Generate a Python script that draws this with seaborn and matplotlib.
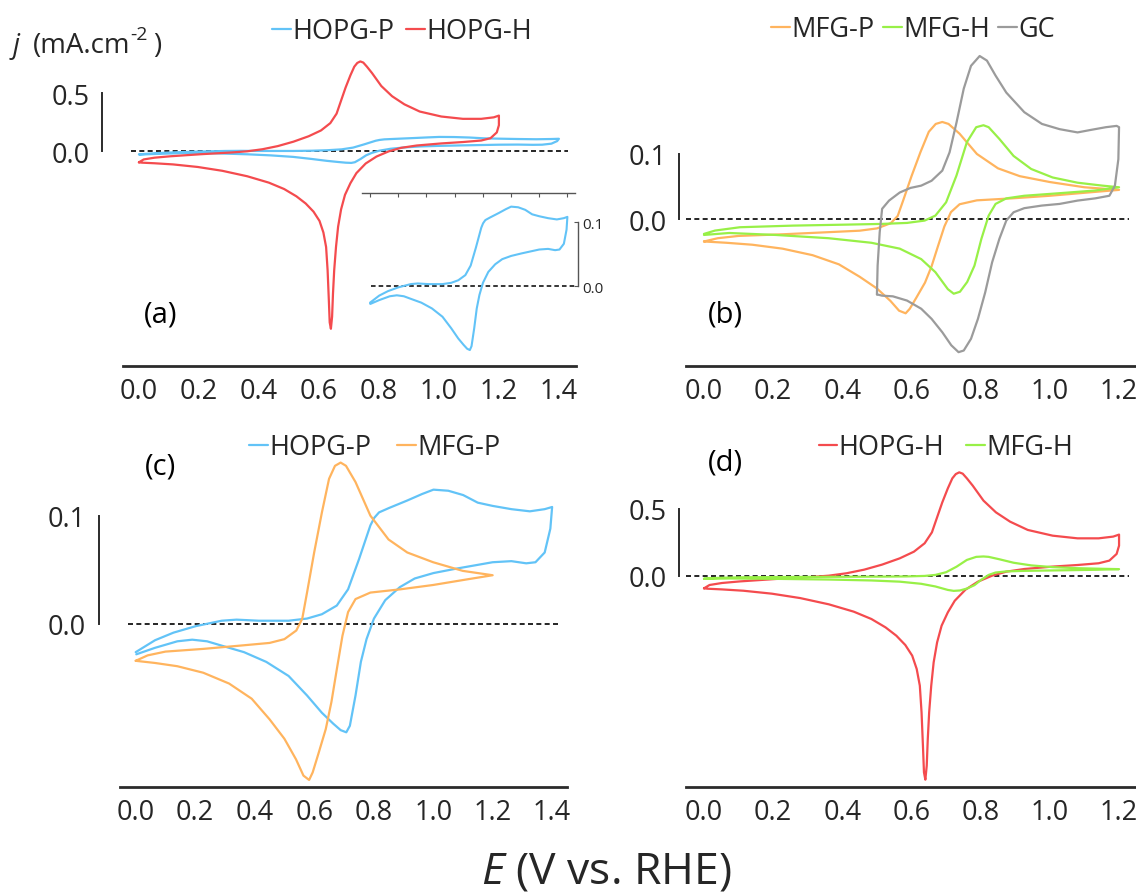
import numpy as np
import pandas as pd
import seaborn as sns
import matplotlib.pyplot as plt

# cyclic voltammograms: forward scan then reverse scan, E in V vs RHE, j in mA/cm2
hopg_p_E = [0.000, 0.065, 0.127, 0.202, 0.289, 0.339, 0.414, 0.514, 0.576, 0.626, 0.676, 0.714,
            0.751, 0.789, 0.802, 0.818, 0.851, 0.913, 0.963, 1.001, 1.051, 1.101, 1.150, 1.200, 1.263,
            1.325, 1.375, 1.400,
            1.394, 1.375, 1.344, 1.313, 1.263, 1.200, 1.138, 1.076, 1.001, 0.938, 0.888, 0.839,
            0.801, 0.776, 0.757, 0.739, 0.720, 0.708, 0.689, 0.664, 0.626, 0.576, 0.514, 0.439,
            0.364, 0.289, 0.240, 0.190, 0.140, 0.065, 0.002]
hopg_p_j = [-0.026, -0.015, -0.008, -0.002, 0.003, 0.004, 0.003, 0.003, 0.005, 0.009, 0.017, 0.032,
            0.060, 0.091, 0.098, 0.103, 0.107, 0.114, 0.120, 0.124, 0.123, 0.119, 0.112, 0.109, 0.106,
            0.104, 0.106, 0.108,
            0.088, 0.066, 0.057, 0.056, 0.058, 0.057, 0.054, 0.051, 0.047, 0.042, 0.034, 0.022,
            0.005, -0.014, -0.035, -0.066, -0.094, -0.100, -0.098, -0.092, -0.082, -0.066, -0.048, -0.035,
            -0.026, -0.020, -0.016, -0.0145, -0.016, -0.022, -0.028]

hopg_h_E = [0.000, 0.016, 0.052, 0.104, 0.207, 0.309, 0.361, 0.412, 0.463, 0.515, 0.566, 0.607,
            0.638, 0.659, 0.674, 0.689, 0.705, 0.718, 0.728, 0.738, 0.748, 0.760, 0.777, 0.808, 0.844,
            0.885, 0.936, 1.008, 1.080, 1.141, 1.183, 1.200,
            1.200, 1.193, 1.172, 1.141, 1.080, 1.008, 0.926, 0.874, 0.833, 0.792, 0.756, 0.725,
            0.705, 0.687, 0.674, 0.664, 0.657, 0.651, 0.647, 0.644, 0.640, 0.636, 0.633, 0.629,
            0.624, 0.615, 0.602, 0.582, 0.556, 0.525, 0.484, 0.433, 0.361, 0.278, 0.196, 0.114,
            0.052, 0.011, 0.000]
hopg_h_j = [-0.095, -0.070, -0.055, -0.043, -0.025, -0.010, 0.000, 0.018, 0.045, 0.083, 0.130, 0.180,
            0.243, 0.325, 0.438, 0.550, 0.655, 0.730, 0.762, 0.775, 0.765, 0.730, 0.675, 0.563, 0.475,
            0.405, 0.343, 0.300, 0.280, 0.280, 0.293, 0.308,
            0.225, 0.163, 0.113, 0.093, 0.080, 0.068, 0.050, 0.030, 0.000, -0.045, -0.105, -0.188,
            -0.275, -0.375, -0.500, -0.650, -0.825, -1.025, -1.225, -1.425, -1.530, -1.475, -1.275, -1.025,
            -0.825, -0.700, -0.600, -0.520, -0.450, -0.388, -0.325, -0.270, -0.215, -0.168, -0.135, -0.113,
            -0.103, -0.098, -0.095]

mfg_p_E = [0.000, 0.040, 0.100, 0.227, 0.350, 0.450, 0.500, 0.540, 0.560, 0.576, 0.600, 0.626,
           0.650, 0.670, 0.689, 0.707, 0.739, 0.789, 0.850, 0.913, 1.000, 1.100, 1.200,
           1.110, 1.000, 0.890, 0.789, 0.739, 0.714, 0.695, 0.676, 0.658, 0.639, 0.614, 0.595,
           0.583, 0.564, 0.539, 0.500, 0.450, 0.390, 0.314, 0.227, 0.140, 0.065, 0.000]
mfg_p_j = [-0.034, -0.029, -0.0255, -0.023, -0.020, -0.0175, -0.014, -0.006, 0.005, 0.029, 0.066, 0.103,
           0.134, 0.146, 0.149, 0.146, 0.131, 0.100, 0.078, 0.066, 0.057, 0.049, 0.045,
           0.041, 0.036, 0.032, 0.029, 0.023, 0.011, -0.011, -0.042, -0.072, -0.097, -0.120, -0.137,
           -0.144, -0.140, -0.125, -0.106, -0.088, -0.069, -0.055, -0.045, -0.039, -0.036, -0.034]

mfg_h_E = [0.000, 0.032, 0.104, 0.258, 0.412, 0.515, 0.587, 0.638, 0.669, 0.700, 0.730, 0.760,
           0.787, 0.808, 0.823, 0.854, 0.895, 0.946, 1.008, 1.080, 1.152, 1.200,
           1.130, 1.030, 0.926, 0.874, 0.843, 0.823, 0.802, 0.782, 0.761, 0.740, 0.722, 0.705,
           0.669, 0.628, 0.566, 0.484, 0.360, 0.207, 0.073, 0.000]
mfg_h_j = [-0.0224, -0.0173, -0.0122, -0.0097, -0.0082, -0.0071, -0.0056, -0.002, 0.0056, 0.026, 0.067, 0.118,
           0.141, 0.144, 0.141, 0.123, 0.097, 0.077, 0.064, 0.056, 0.0515, 0.049,
           0.044, 0.040, 0.036, 0.032, 0.0235, 0.0056, -0.030, -0.071, -0.096, -0.111, -0.114, -0.107,
           -0.081, -0.061, -0.045, -0.036, -0.029, -0.024, -0.021, -0.024]

gc_E = [0.500, 0.502, 0.508, 0.515, 0.535, 0.566, 0.597, 0.628, 0.658, 0.689, 0.710, 0.730,
        0.751, 0.772, 0.797, 0.818, 0.843, 0.874, 0.926, 0.977, 1.028, 1.080, 1.120, 1.162,
        1.193, 1.200,
        1.198, 1.188, 1.172, 1.131, 1.080, 1.028, 0.977, 0.926, 0.895, 0.874, 0.854, 0.833,
        0.813, 0.792, 0.772, 0.751, 0.736, 0.715, 0.689, 0.658, 0.628, 0.587, 0.546, 0.515, 0.500]
gc_j = [-0.115, -0.071, -0.020, 0.016, 0.0286, 0.041, 0.048, 0.0515, 0.059, 0.0745, 0.1025, 0.148,
        0.200, 0.235, 0.250, 0.243, 0.220, 0.194, 0.164, 0.146, 0.138, 0.133, 0.137, 0.141,
        0.143, 0.141,
        0.092, 0.0515, 0.036, 0.032, 0.0286, 0.0235, 0.021, 0.017, 0.0107, -0.002, -0.030, -0.066,
        -0.112, -0.1525, -0.183, -0.201, -0.2035, -0.193, -0.173, -0.1525, -0.137, -0.1245, -0.118, -0.117, -0.115]

colors = {"HOPG-P": "#62C3F7", "HOPG-H": "#F44B4E", "MFG-P": "#FFB45E",
          "MFG-H": "#98F047", "GC": "#9B9B9B"}
curves = {"HOPG-P": (hopg_p_E, hopg_p_j), "HOPG-H": (hopg_h_E, hopg_h_j),
          "MFG-P": (mfg_p_E, mfg_p_j), "MFG-H": (mfg_h_E, mfg_h_j), "GC": (gc_E, gc_j)}

sns.set_style("white")
plt.rcParams["font.family"] = ["Open Sans", "DejaVu Sans"]
plt.rcParams["mathtext.fontset"] = "custom"
plt.rcParams["mathtext.rm"] = "Open Sans"
plt.rcParams["mathtext.it"] = "Open Sans:italic"

W, H = 1136, 895
fig = plt.figure(figsize=(W / 100, H / 100), dpi=100)
TXT = "#262626"
FS = 19.5


def px_axes(left, top, right, bottom):
    return fig.add_axes([left / W, 1 - bottom / H, (right - left) / W, (bottom - top) / H])


def draw(ax, names, lw=1.6, legend=True):
    for n in names:
        E, j = curves[n]
        sns.lineplot(x=E, y=j, sort=False, estimator=None, color=colors[n], lw=lw,
                     label=n if legend else None, ax=ax)


def style(ax, xlim, ylim, xticks, yticks, yspine_x, dash_x):
    ax.set_xlim(xlim)
    ax.set_ylim(ylim)
    ax.set_xticks(xticks)
    ax.set_xticklabels([f"{t:.1f}" for t in xticks])
    ax.set_yticks(yticks)
    ax.set_yticklabels([f"{t:.1f}" for t in yticks])
    ax.set_facecolor("none")
    for s in ["top", "right"]:
        ax.spines[s].set_visible(False)
    ax.spines["bottom"].set_linewidth(2.0)
    ax.spines["bottom"].set_color("#2b2b2b")
    ax.spines["left"].set_linewidth(1.4)
    ax.spines["left"].set_color("#2b2b2b")
    ax.spines["left"].set_position(("data", yspine_x))
    ax.spines["left"].set_bounds(yticks[0], yticks[-1])
    ax.tick_params(axis="x", direction="in", length=4, width=1.4, pad=8,
                   labelsize=FS, color="#2b2b2b", labelcolor=TXT)
    ax.tick_params(axis="y", direction="in", length=4, width=1.4, pad=9,
                   labelsize=FS, color="#2b2b2b", labelcolor=TXT)
    ax.set_xlabel("")
    ax.set_ylabel("")
    x0, x1 = xlim
    ax.axhline(0, xmin=(dash_x[0] - x0) / (x1 - x0), xmax=(dash_x[1] - x0) / (x1 - x0),
               color="black", lw=1.2, ls=(0, (3, 2)), zorder=0)


def legend(ax, cx, cy, colsp):
    ax.legend(loc="center", bbox_to_anchor=(cx / W, 1 - cy / H), bbox_transform=fig.transFigure,
              ncol=3, frameon=False, fontsize=FS, handlelength=0.7, handletextpad=0.05,
              columnspacing=colsp, borderpad=0, borderaxespad=0)


# (a)
ax_a = px_axes(123, 10, 576, 367)
draw(ax_a, ["HOPG-P", "HOPG-H"])
style(ax_a, (-0.053, 1.457), (-1.851, 1.227), [0, 0.2, 0.4, 0.6, 0.8, 1.0, 1.2, 1.4],
      [0.0, 0.5], -0.123, (-0.027, 1.43))
legend(ax_a, 402, 32, 0.45)

# inset of (a)
ax_in = px_axes(362, 194, 575, 360)
draw(ax_in, ["HOPG-P"], lw=1.5, legend=False)
ax_in.set_xlim(-0.057, 1.454)
ax_in.set_ylim(-0.114, 0.1453)
ax_in.set_facecolor("none")
ax_in.set_xticks([0, 0.2, 0.4, 0.6, 0.8, 1.0, 1.2, 1.4])
ax_in.set_yticks([0.0, 0.1])
ax_in.set_yticklabels(["0.0", "0.1"])
ax_in.xaxis.tick_top()
ax_in.yaxis.tick_right()
for s in ["left", "bottom"]:
    ax_in.spines[s].set_visible(False)
ax_in.spines["top"].set_color("#555555")
ax_in.spines["top"].set_linewidth(1.0)
ax_in.spines["right"].set_color("#555555")
ax_in.spines["right"].set_linewidth(1.0)
ax_in.spines["right"].set_position(("data", 1.475))
ax_in.spines["right"].set_bounds(0.0, 0.1)
ax_in.tick_params(axis="x", direction="in", length=3, width=0.8, labeltop=False, color="#555555")
ax_in.tick_params(axis="y", direction="in", length=3, width=0.8, pad=3, labelsize=11,
                  color="#555555", labelcolor=TXT)
ax_in.axhline(0, xmin=0.04, xmax=1.0, color="black", lw=1.1, ls=(0, (3, 2)), zorder=0)
ax_in.set_xlabel("")
ax_in.set_ylabel("")

# (b)
ax_b = px_axes(686, 10, 1136, 367)
draw(ax_b, ["MFG-P", "MFG-H", "GC"])
style(ax_b, (-0.052, 1.249), (-0.2247, 0.322), [0, 0.2, 0.4, 0.6, 0.8, 1.0, 1.2],
      [0.0, 0.1], -0.072, (-0.052, 1.23))
legend(ax_b, 913, 30, 0.3)

# (c)
ax_c = px_axes(120, 430, 567, 788)
draw(ax_c, ["HOPG-P", "MFG-P"])
style(ax_c, (-0.0528, 1.450), (-0.1505, 0.180), [0, 0.2, 0.4, 0.6, 0.8, 1.0, 1.2, 1.4],
      [0.0, 0.1], -0.125, (-0.027, 1.425))
legend(ax_c, 375, 448, 0.95)

# (d)
ax_d = px_axes(686, 430, 1136, 788)
draw(ax_d, ["HOPG-H", "MFG-H"])
style(ax_d, (-0.052, 1.249), (-1.585, 1.10), [0, 0.2, 0.4, 0.6, 0.8, 1.0, 1.2],
      [0.0, 0.5], -0.072, (-0.052, 1.23))
legend(ax_d, 946, 448, 0.8)

for lab, x, y in [("(a)", 161, 315), ("(b)", 725, 315), ("(c)", 161, 467), ("(d)", 725, 463)]:
    fig.text(x / W, 1 - y / H, lab, fontsize=21, ha="center", va="center", color="black")

# y-axis unit label, pieced together so the exponent keeps a plain hyphen
fig.text(13 / W, 1 - 53 / H, "j", fontsize=20, style="italic", ha="left", va="baseline", color=TXT)
fig.text(33 / W, 1 - 53 / H, "(mA.cm", fontsize=20, ha="left", va="baseline", color=TXT)
fig.text(130 / W, 1 - 40 / H, "-2", fontsize=14, ha="left", va="baseline", color=TXT)
fig.text(153 / W, 1 - 53 / H, ")", fontsize=20, ha="left", va="baseline", color=TXT)

fig.text(606 / W, 1 - 884 / H, r"$\mathit{E}$ (V vs. RHE)", fontsize=32, ha="center",
         va="baseline", color=TXT)

fig.savefig("out.png", dpi=100)
